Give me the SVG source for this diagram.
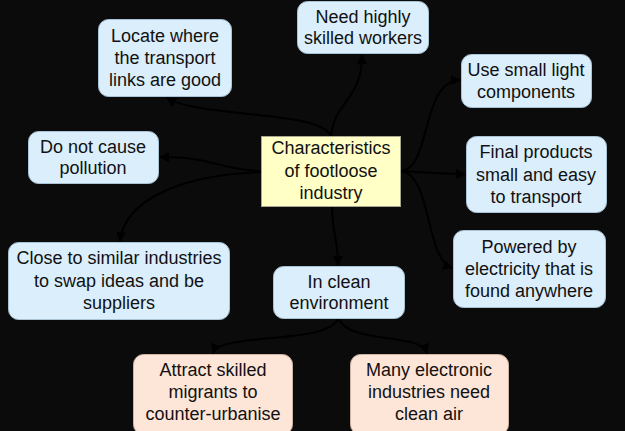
<svg xmlns="http://www.w3.org/2000/svg" width="625" height="431" viewBox="0 0 625 431">
<defs>
<style>
.bg{fill:#0b0b0b}
.blue{fill:#daeefc;stroke:#a9c2d4;stroke-width:1}
.peach{fill:#fde5d8;stroke:#cdb3a3;stroke-width:1}
.center{fill:#ffffc6;stroke:#a8a890;stroke-width:1}
text{font-family:"Liberation Sans",Arial,sans-serif;font-size:18px;fill:#111;text-anchor:middle}
.c path{fill:none;stroke:#000;stroke-width:2}
</style>
<marker id="arr" viewBox="0 0 10 10" refX="9" refY="5" markerWidth="5" markerHeight="5" orient="auto-start-reverse">
<path d="M0,0 L10,5 L0,10 z" fill="#000"/>
</marker>
</defs>
<rect class="bg" x="0" y="0" width="625" height="431"/>
<g id="connectors" class="c">
<path d="M331,136 C320,110 200,118 167,98" marker-end="url(#arr)"/>
<path d="M331,136 C335,100 362,100 362,55" marker-end="url(#arr)"/>
<path d="M401,171 C432,168 420,82 460,80" marker-end="url(#arr)"/>
<path d="M401,171 C420,172 440,174 465,174" marker-end="url(#arr)"/>
<path d="M401,171 C432,175 425,258 452,268" marker-end="url(#arr)"/>
<path d="M261,171 C220,170 215,157 160,157" marker-end="url(#arr)"/>
<path d="M261,172 C180,175 125,200 120,241" marker-end="url(#arr)"/>
<path d="M332,206 C332,232 338,240 338,265" marker-end="url(#arr)"/>
<path d="M338,318 C330,345 220,332 213,353" marker-end="url(#arr)"/>
<path d="M338,318 C350,345 420,332 427,353" marker-end="url(#arr)"/>
</g>
<g id="center">
<rect class="center" x="261.5" y="136.5" width="139" height="70"/>
<text x="331" y="154">Characteristics</text>
<text x="331" y="177">of footloose</text>
<text x="331" y="199">industry</text>
</g>
<g id="locate">
<rect class="blue" x="98.5" y="19.5" width="133" height="77" rx="10"/>
<text x="165" y="42">Locate where</text>
<text x="165" y="64">the transport</text>
<text x="165" y="86">links are good</text>
</g>
<g id="skilled">
<rect class="blue" x="297.5" y="1.5" width="131" height="52" rx="10"/>
<text x="363" y="23">Need highly</text>
<text x="363" y="44">skilled workers</text>
</g>
<g id="components">
<rect class="blue" x="461.5" y="54.5" width="130" height="53" rx="10"/>
<text x="526" y="76">Use small light</text>
<text x="526" y="98">components</text>
</g>
<g id="products">
<rect class="blue" x="466.5" y="136.5" width="140" height="76" rx="10"/>
<text x="536" y="158">Final products</text>
<text x="536" y="181">small and easy</text>
<text x="536" y="203">to transport</text>
</g>
<g id="pollution">
<rect class="blue" x="28.5" y="131.5" width="130" height="52" rx="10"/>
<text x="93" y="153">Do not cause</text>
<text x="93" y="174">pollution</text>
</g>
<g id="similar">
<rect class="blue" x="8.5" y="242.5" width="221" height="77" rx="10"/>
<text x="119" y="264">Close to similar industries</text>
<text x="119" y="287">to swap ideas and be</text>
<text x="119" y="309">suppliers</text>
</g>
<g id="clean">
<rect class="blue" x="273.5" y="266.5" width="131" height="52" rx="10"/>
<text x="339" y="288">In clean</text>
<text x="339" y="309">environment</text>
</g>
<g id="electricity">
<rect class="blue" x="453.5" y="230.5" width="152" height="77" rx="10"/>
<text x="529" y="253">Powered by</text>
<text x="529" y="275">electricity that is</text>
<text x="529" y="297">found anywhere</text>
</g>
<g id="migrants">
<rect class="peach" x="133.5" y="354.5" width="159" height="80" rx="10"/>
<text x="213" y="376">Attract skilled</text>
<text x="213" y="398">migrants to</text>
<text x="213" y="420">counter-urbanise</text>
</g>
<g id="cleanair">
<rect class="peach" x="350.5" y="354.5" width="158" height="80" rx="10"/>
<text x="429" y="376">Many electronic</text>
<text x="429" y="398">industries need</text>
<text x="429" y="420">clean air</text>
</g>
</svg>
